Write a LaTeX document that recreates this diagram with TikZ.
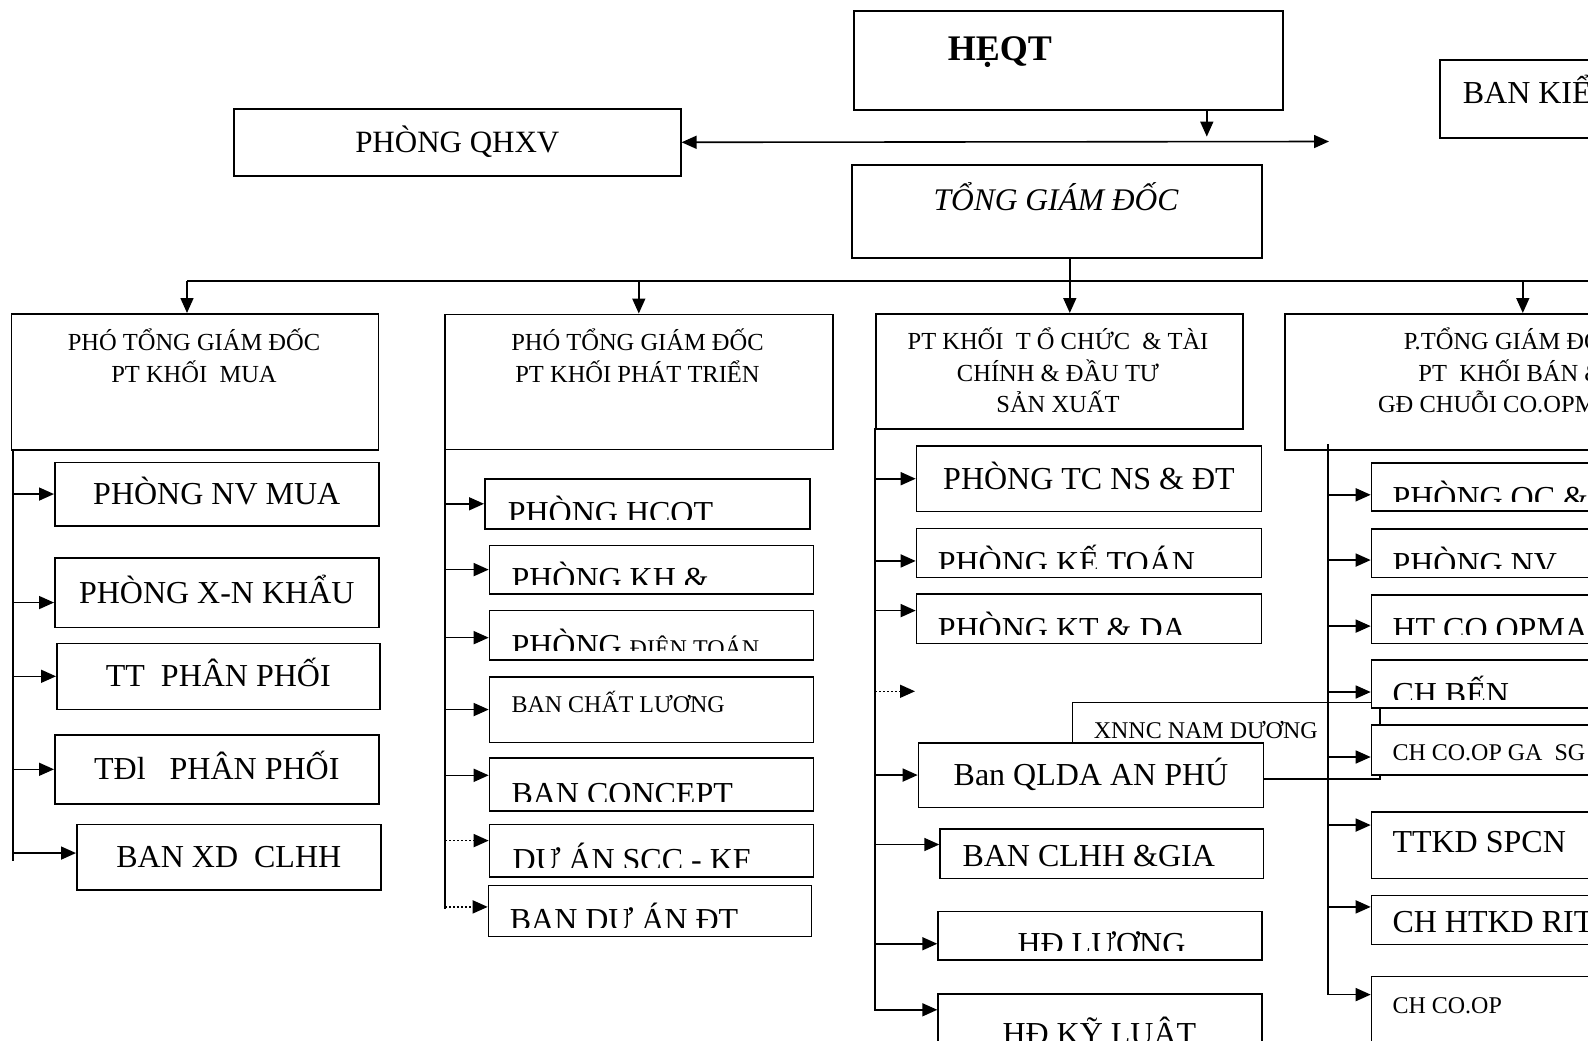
\documentclass[tikz,border=0pt]{standalone}
\usepackage{fontspec}
\setmainfont{Liberation Serif}
\usetikzlibrary{arrows.meta, positioning}

\newcommand\cutbox[4]{%
  \begin{scope}
    \clip (#1.north west) rectangle ([yshift=10pt]#1.south east);
    \node[cut] (#1-t) at (#2,#3) {#4};
  \end{scope}}

\begin{document}
\begin{tikzpicture}[
  x=1pt, y=-1pt, line width=1.6pt,
  box/.style={draw, fill=white, inner sep=0pt, anchor=north west},
  big/.style={font=\fontsize{32}{38}\selectfont, text height=21pt, text depth=0pt},
  head/.style={font=\fontsize{24.5}{31.4}\selectfont, align=center, anchor=base, inner sep=0pt},
  cut/.style={anchor=base west, inner sep=0pt, font=\fontsize{32}{38}\selectfont},
  lbl/.style={anchor=base west, inner sep=0pt},
  small/.style={lbl, font=\fontsize{24}{30}\selectfont},
  arr/.style={-{Triangle[length=15pt, width=13pt]}},
  dots/.style={dash pattern=on 1.6pt off 2.4pt}
]

\fill[white] (0,0) rectangle (1588,1041);
\useasboundingbox (0,0) rectangle (1588,1041);
\clip (0,0) rectangle (1588,1041);

\node[box, minimum width=429, minimum height=99] (heqt) at (853,10) {};
\node[lbl, font=\fontsize{36}{40}\selectfont\bfseries] (heqt-t) at (947,60) {HẸQT};
\node[box, minimum width=300, minimum height=78] (bks) at (1439,59) {};
\node[lbl, font=\fontsize{32}{38}\selectfont] (bks-t) at (1462,103) {BAN KIỂM SOÁT};
\node[box, minimum width=447, minimum height=67, font=\fontsize{31}{36}\selectfont,
  text height=20pt, text depth=0pt] (qhxv) at (233,108) {PHÒNG QHXV};
\node[box, minimum width=410, minimum height=93] (tgd) at (851,164) {};
\node[anchor=base, inner sep=0pt, font=\fontsize{31.5}{36}\selectfont\itshape] (tgd-t) at (1056,210) {TỔNG GIÁM ĐỐC};

\coordinate (bksin) at (1329,141.5);
\draw[{Triangle[length=15pt, width=13pt]}-{Triangle[length=15pt, width=13pt]}] (qhxv.east) -- (bksin);
\draw[arr] ([xshift=138.5pt]heqt.south) -- ++(0,26);

\node[box, minimum width=367, minimum height=136] (khmua) at (10.7,313) {};
\node[head] (khmua-t) at (194,382) {PHÓ TỔNG GIÁM ĐỐC\\PT KHỐI~~MUA};
\node[box, minimum width=388, minimum height=135] (khpt) at (444,313.5) {};
\node[head] (khpt-t) at (637.5,382) {PHÓ TỔNG GIÁM ĐỐC\\PT KHỐI PHÁT TRIỂN};
\node[box, minimum width=367, minimum height=115] (khtc) at (875,313) {};
\node[head] (khtc-t) at (1058,412.4) {PT KHỐI~~T Ổ CHỨC~~\& TÀI\\CHÍNH \& ĐẦU TƯ\\SẢN XUẤT};
\node[box, minimum width=476, minimum height=136] (khban) at (1284,313) {};
\node[head] (khban-t) at (1511,412.4) {P.TỔNG GIÁM ĐỐC\\PT~~KHỐI BÁN \&\\GĐ CHUỖI CO.OPMART};

\coordinate (bus) at (187,281);
\coordinate (busend) at (1600,281);
\draw (bus) -- (busend);
\draw[arr] (bus) -- (bus |- khmua.north);
\draw[arr] (khpt.north |- bus) -- (khpt.north);
\draw[arr] ([xshift=13pt]tgd.south) -- ([xshift=13pt]tgd.south |- khtc.north);
\draw[arr] (khban.north |- bus) -- (khban.north);

\node[box, big, minimum width=324, minimum height=63.5] (nvmua) at (54,461.5) {PHÒNG NV MUA};
\node[box, big, minimum width=324, minimum height=69.5] (xnk) at (54,557) {PHÒNG X-N KHẨU};
\node[box, big, minimum width=323, minimum height=66] (ttpp) at (56,642.5) {TT~~PHÂN PHỐI};
\node[box, big, minimum width=324, minimum height=69] (tdpp) at (54,734) {TĐl~~~PHÂN PHỐI};
\node[box, big, minimum width=304, minimum height=65.5] (banxd) at (76,823.5) {BAN XD~~CLHH};

\node[box, minimum width=325, minimum height=50] (hcqt) at (484,478) {};
\cutbox{hcqt}{507}{523.5}{PHÒNG HCQT}
\node[box, minimum width=324, minimum height=48.4] (khdt) at (488.7,544.6) {};
\cutbox{khdt}{510.7}{589}{PHÒNG KH \&}
\node[box, minimum width=324, minimum height=49.3] (dtoan) at (488.7,609.7) {};
\cutbox{dtoan}{510.7}{656.5}{PHÒNG {\fontsize{24}{30}\selectfont ĐIỆN TOÁN}}
\node[box, minimum width=324, minimum height=65.5] (chatl) at (488.7,676) {};
\node[small] (chatl-t) at (510.7,712.5) {BAN CHẤT LƯƠNG};
\node[box, minimum width=324, minimum height=53] (concept) at (488.7,757) {};
\cutbox{concept}{510.7}{804.5}{BAN CONCEPT}
\node[box, minimum width=324, minimum height=52.4] (scc) at (488.7,823.6) {};
\cutbox{scc}{511.7}{870}{DỰ ÁN SCC - KF}
\node[box, minimum width=323, minimum height=51] (duan) at (487.7,884.6) {};
\cutbox{duan}{509}{930}{BAN DỰ ÁN ĐT}

\node[box, minimum width=307.6, minimum height=76.5] (xnnc) at (1071.7,701.5) {};
\node[small] (xnnc-t) at (1093,738.3) {XNNC NAM DƯƠNG};

\node[box, big, minimum width=345, minimum height=65.8] (tcns) at (915.7,445) {PHÒNG TC NS \& ĐT};
\node[box, minimum width=345, minimum height=48.7] (ketoan) at (915.7,527.8) {};
\cutbox{ketoan}{937}{573.5}{PHÒNG KẾ TOÁN}
\node[box, minimum width=345, minimum height=49.6] (ktda) at (915.7,593) {};
\cutbox{ktda}{937}{639}{PHÒNG KT \& DA}
\node[box, big, minimum width=345, minimum height=64.7] (qlda) at (917.7,741.9) {Ban QLDA AN PHÚ};
\node[box, minimum width=323.4, minimum height=49.6] (clhh) at (939.3,827.9) {};
\cutbox{clhh}{961.7}{866}{BAN CLHH \&GIA}
\node[box, minimum width=323.7, minimum height=48.7] (luong) at (937.3,910.6) {};
\cutbox{luong}{1016.7}{954.5}{HĐ LƯƠNG}
\node[box, minimum width=323.7, minimum height=70] (kyluat) at (937.3,993.3) {};
\cutbox{kyluat}{1001.7}{1044}{HĐ KỸ LUẬT}

\node[box, minimum width=320, minimum height=48] (qc) at (1370.7,462) {};
\cutbox{qc}{1391.7}{508}{PHÒNG QC \&}
\node[box, minimum width=320, minimum height=48.5] (nvb) at (1370.7,528) {};
\cutbox{nvb}{1391.7}{574.3}{PHÒNG NV}
\node[box, minimum width=320, minimum height=48.6] (htcm) at (1370.7,594) {};
\cutbox{htcm}{1391.7}{639}{HT CO.OPMART}
\node[box, minimum width=320, minimum height=48.4] (ben) at (1370.7,659) {};
\cutbox{ben}{1391.7}{704.3}{CH BẾN}
\node[box, minimum width=320, minimum height=49.6] (gasg) at (1370.7,724.4) {};
\node[small] (gasg-t) at (1391.7,760.8) {CH CO.OP GA~~SG};
\node[box, minimum width=320, minimum height=66.5] (ttkd) at (1370.7,811) {};
\node[lbl, font=\fontsize{32}{38}\selectfont] (ttkd-t) at (1391.7,852) {TTKD SPCN};
\node[box, minimum width=320, minimum height=49.2] (htkd) at (1370.7,894.5) {};
\node[lbl, font=\fontsize{32}{38}\selectfont] (htkd-t) at (1391.7,932.3) {CH HTKD RIT};
\node[box, minimum width=320, minimum height=80] (chcoop) at (1370.7,975.8) {};
\node[small] (chcoop-t) at (1391.7,1013.6) {CH CO.OP};

\coordinate (c1) at (12.7,449);
\coordinate (c2) at (445,448.4);
\coordinate (c3) at (875,427.6);
\coordinate (c4) at (1327.7,444);

\draw (c1) -- ++(0,412);
\foreach \n/\dy in {nvmua/0, xnk/-10, ttpp/0, tdpp/0, banxd/4}
  \draw[arr] ([yshift=\dy pt]\n.west -| c1) -- ([yshift=\dy pt]\n.west);

\draw (c2) -- ++(0,461);
\foreach \n/\dy in {hcqt/0, khdt/0, dtoan/-2.5, chatl/0, concept/9}
  \draw[arr] ([yshift=\dy pt]\n.west -| c2) -- ([yshift=\dy pt]\n.west);
\draw[arr, dots] ([yshift=10pt]scc.west -| c2) -- ([yshift=10pt]scc.west);
\draw[arr, dots] ([yshift=4pt]duan.west -| c2) -- ([yshift=4pt]duan.west);

\draw[arr] (c3) |- ([yshift=19.3pt]kyluat.west);
\foreach \n/\dy in {tcns/0, ketoan/-8, ktda/8, qlda/0, clhh/9, luong/-8}
  \draw[arr] ([yshift=\dy pt]\n.west -| c3) -- ([yshift=\dy pt]\n.west);
\coordinate (tcfree) at (915,691.3);
\draw[arr, dots] (c3 |- tcfree) -- (tcfree);

\draw[arr] (c4) |- ([yshift=22pt]chcoop.west);
\foreach \n/\dy in {qc/-8, nvb/-7, htcm/-7, ben/-8, gasg/-7, ttkd/20, htkd/13}
  \draw[arr] ([yshift=\dy pt]\n.west -| c4) -- ([yshift=\dy pt]\n.west);

\end{tikzpicture}
\end{document}
